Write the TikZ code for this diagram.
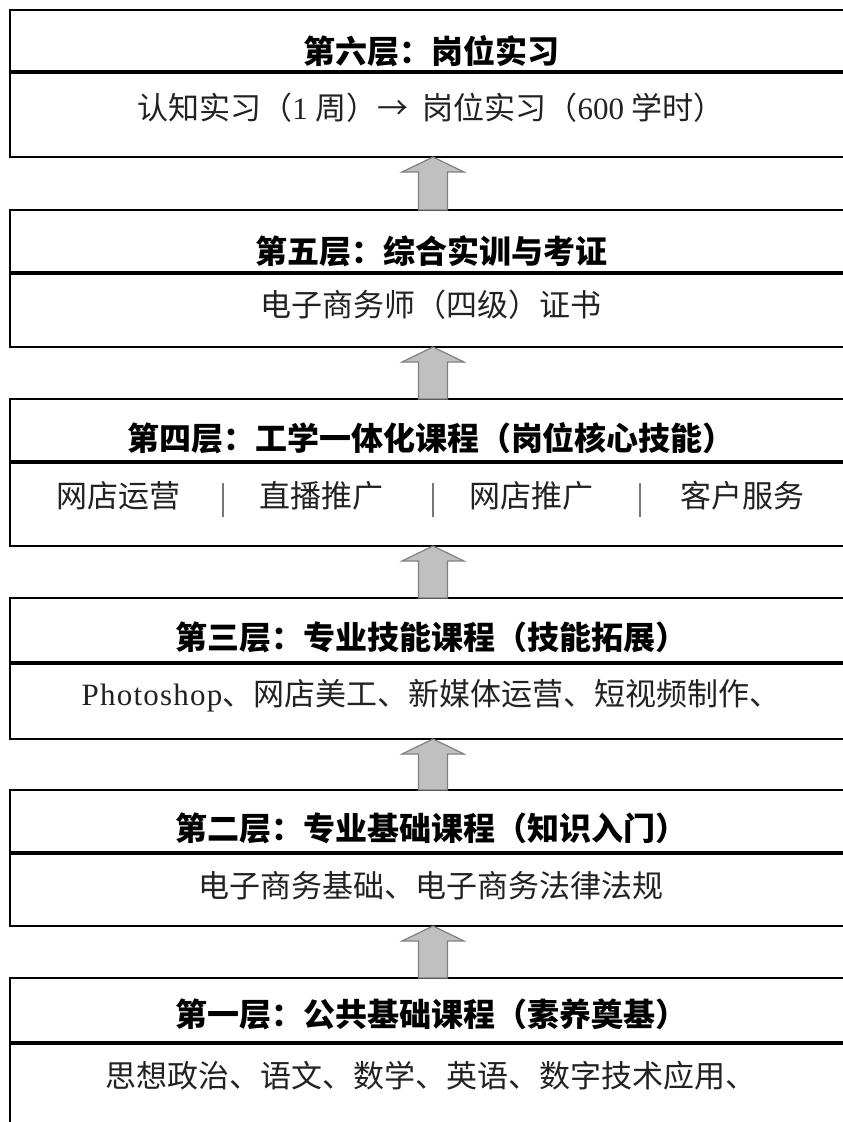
\documentclass[tikz,border=0pt]{standalone}
\usepackage{fontspec}
\newfontfamily\cjk{Noto Sans CJK SC}
\newfontfamily\lat{Liberation Serif}
\usetikzlibrary{calc}
\definecolor{arrfill}{HTML}{C0C0C0}
\definecolor{arrline}{HTML}{808080}
\definecolor{bodytxt}{HTML}{222222}
\definecolor{bartxt}{HTML}{444444}
\tikzset{
  layerbox/.style={draw=black, line width=2pt, fill=white, rectangle, anchor=north west,
    minimum width=880pt, inner sep=0pt, outer sep=0pt},
  divline/.style={line width=3.4pt, draw=black},
  ttl/.style={font=\cjk\bfseries\fontsize{32}{36}\selectfont, inner sep=0pt, text=black},
  bdy/.style={font=\cjk\fontsize{31}{35}\selectfont, inner sep=0pt, text=bodytxt},
  sepbar/.style={font=\cjk\fontsize{34}{38}\selectfont, inner sep=0pt, text=bartxt},
  uparrow/.style={fill=arrfill, draw=arrline, line width=1.2pt, line join=miter},
}
\newcommand\layerarrow[2]{%
  \draw[uparrow] let \p1=(#1.north), \p2=(#2.south) in
    (418.5pt,\y1) -- (418.5pt,{\y2-15pt}) -- (402pt,{\y2-15pt}) -- (433pt,\y2)
    -- (464pt,{\y2-15pt}) -- (447.5pt,{\y2-15pt}) -- (447.5pt,\y1) -- cycle;}
\begin{document}
\begin{tikzpicture}[x=1pt,y=-1pt]
\useasboundingbox (0,0) rectangle (843,1122);
\clip (0,0) rectangle (843,1122);
\fill[white] (0,0) rectangle (843,1122);

% layer 6
\node[layerbox, minimum height=62pt] (H6) at (10,10) {};
\node[layerbox, minimum height=85pt] (B6) at (H6.south west) {};
\draw[divline] (H6.south west) -- (H6.south east);
\node[ttl] (t6) at (431,51) {第六层：岗位实习};
\node[bdy] (b6) at (431,108) {认知实习（{\lat 1 }周）→\hspace{14pt}岗位实习（{\lat 600 }学时）};

% layer 5
\node[layerbox, minimum height=63pt] (H5) at (10,210) {};
\node[layerbox, minimum height=74pt] (B5) at (H5.south west) {};
\draw[divline] (H5.south west) -- (H5.south east);
\node[ttl] (t5) at (431,251) {第五层：综合实训与考证};
\node[bdy] (b5) at (431,305) {电子商务师（四级）证书};

% layer 4
\node[layerbox, minimum height=63pt] (H4) at (10,399) {};
\node[layerbox, minimum height=84pt] (B4) at (H4.south west) {};
\draw[divline] (H4.south west) -- (H4.south east);
\node[ttl] (t4) at (431,438) {第四层：工学一体化课程（岗位核心技能）};
\node[bdy] (b4a) at (118,496) {网店运营};
\node[sepbar] (s4a) at (223,501) {｜};
\node[bdy] (b4b) at (321,496) {直播推广};
\node[sepbar] (s4b) at (433,501) {｜};
\node[bdy] (b4c) at (531,496) {网店推广};
\node[sepbar] (s4c) at (640,501) {｜};
\node[bdy] (b4d) at (742,496) {客户服务};

% layer 3
\node[layerbox, minimum height=65pt] (H3) at (10,598) {};
\node[layerbox, minimum height=76pt] (B3) at (H3.south west) {};
\draw[divline] (H3.south west) -- (H3.south east);
\node[ttl] (t3) at (431,637) {第三层：专业技能课程（技能拓展）};
\node[bdy] (b3) at (431,696) {{\lat\addfontfeatures{LetterSpace=4}Photoshop}、网店美工、新媒体运营、短视频制作、};

% layer 2
\node[layerbox, minimum height=63pt] (H2) at (10,790) {};
\node[layerbox, minimum height=73pt] (B2) at (H2.south west) {};
\draw[divline] (H2.south west) -- (H2.south east);
\node[ttl] (t2) at (431,828) {第二层：专业基础课程（知识入门）};
\node[bdy] (b2) at (431,886) {电子商务基础、电子商务法律法规};

% layer 1
\node[layerbox, minimum height=65pt] (H1) at (10,978) {};
\node[layerbox, minimum height=130pt] (B1) at (H1.south west) {};
\draw[divline] (H1.south west) -- (H1.south east);
\node[ttl] (t1) at (431,1014) {第一层：公共基础课程（素养奠基）};
\node[bdy] (b1) at (431,1076) {思想政治、语文、数学、英语、数字技术应用、};

% arrows
\layerarrow{H5}{B6}
\layerarrow{H4}{B5}
\layerarrow{H3}{B4}
\layerarrow{H2}{B3}
\layerarrow{H1}{B2}
\end{tikzpicture}
\end{document}
